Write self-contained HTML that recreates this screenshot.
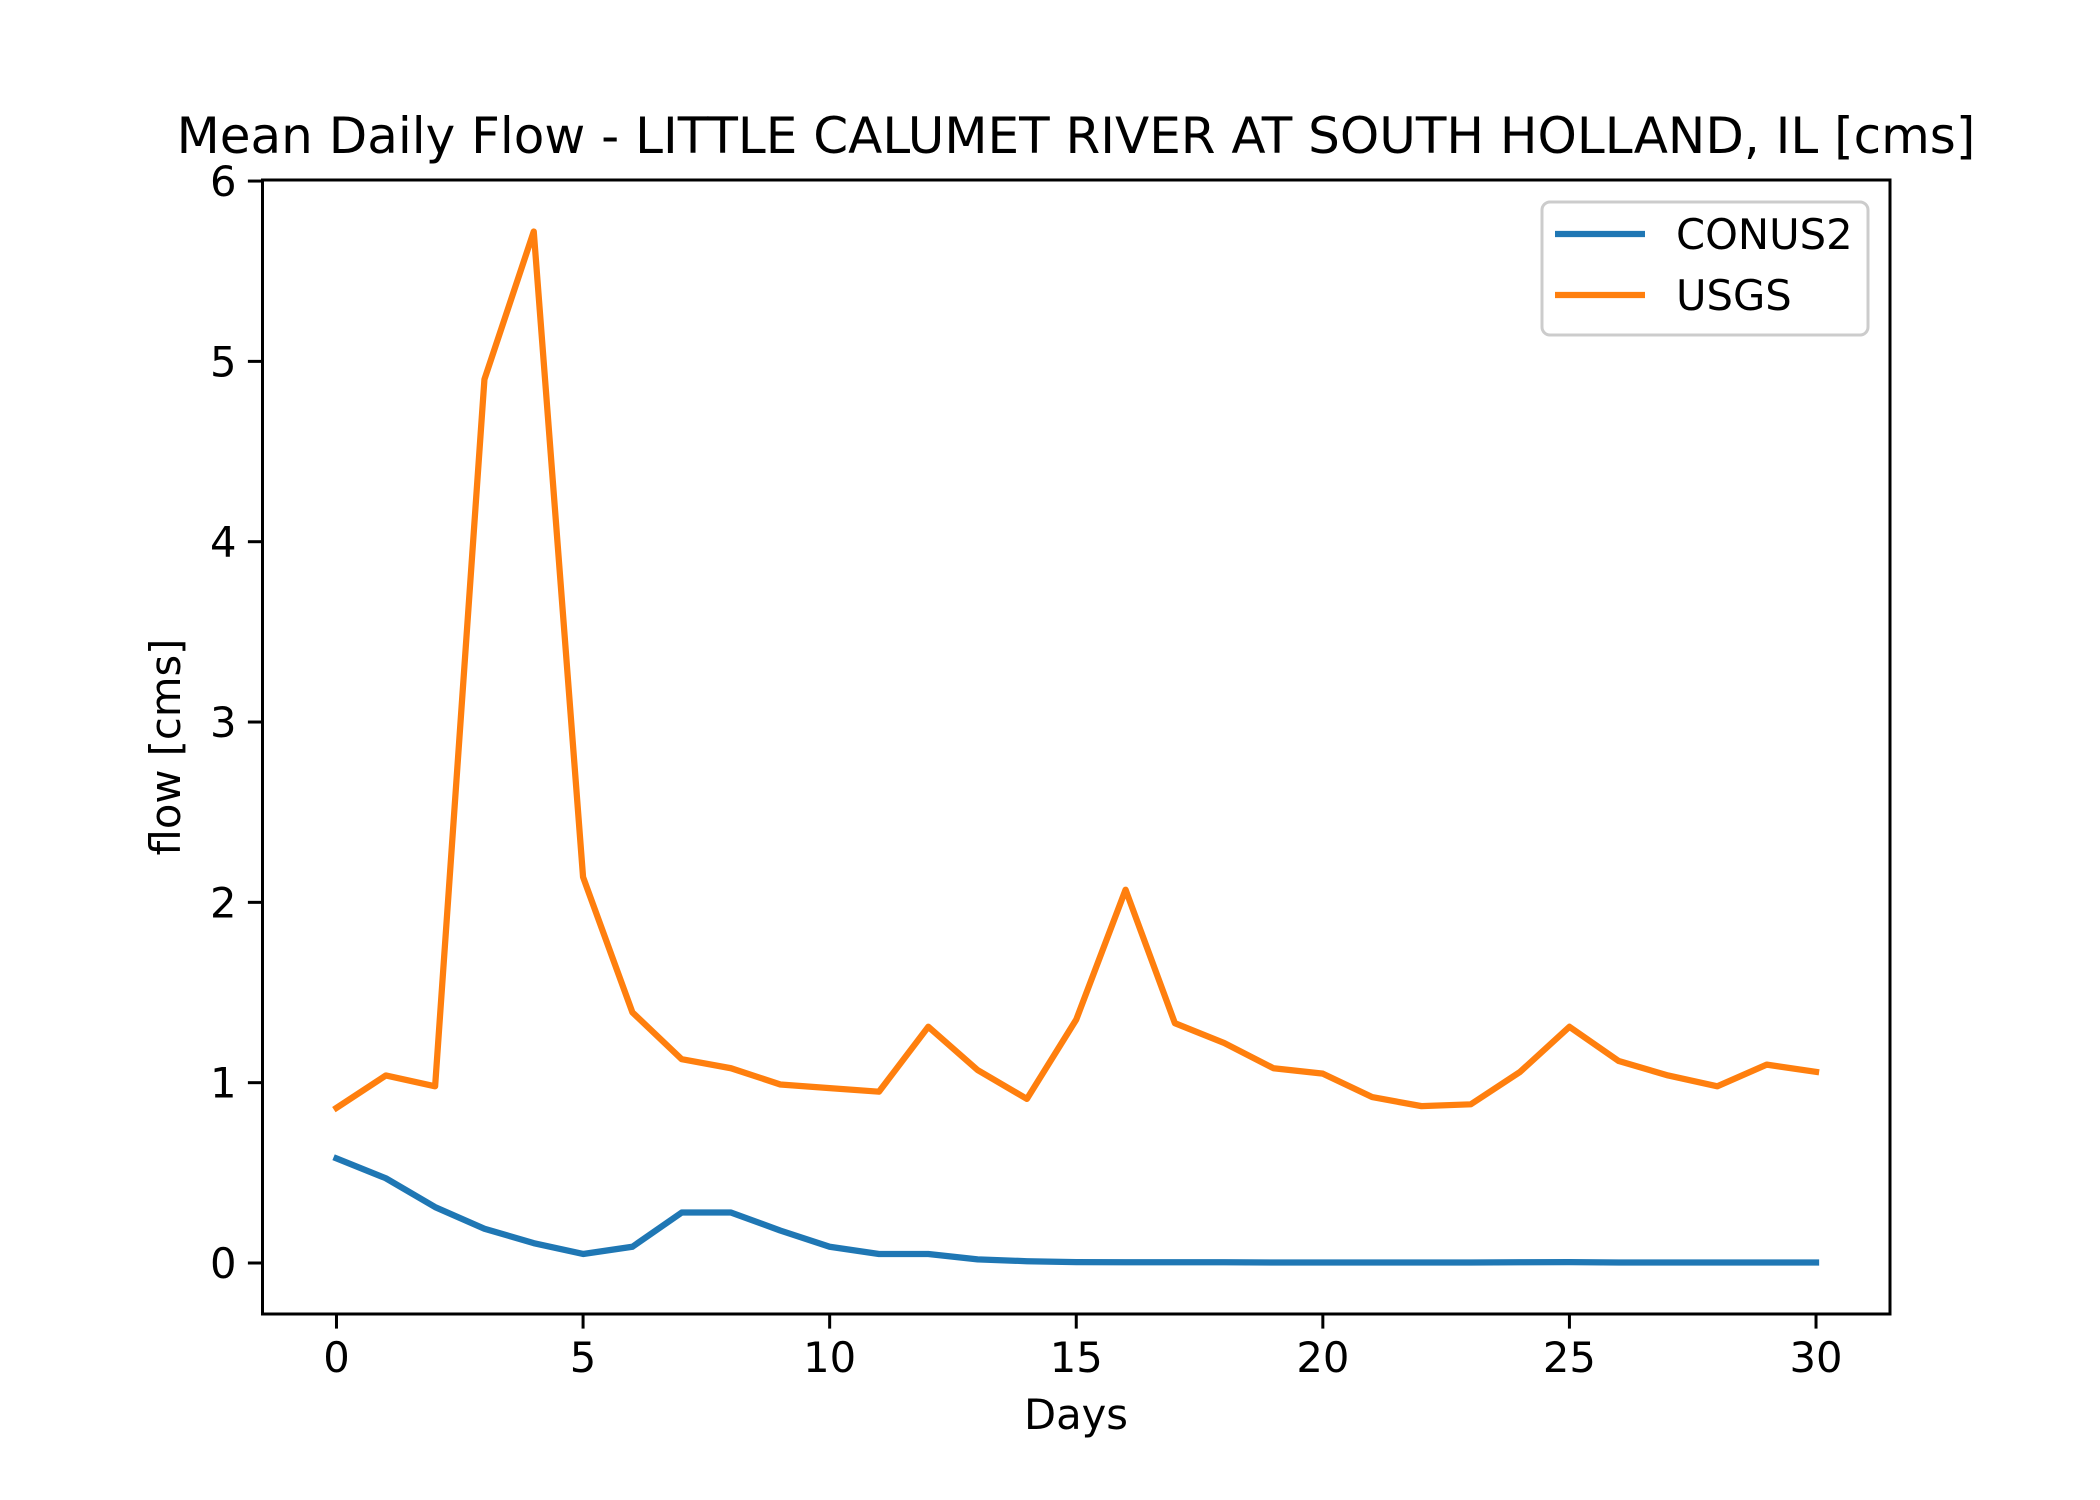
<!DOCTYPE html>
<html><head><meta charset="utf-8"><style>body{margin:0;background:#fff}svg{display:block}text{font-family:"DejaVu Sans","Liberation Sans",sans-serif;fill:#000}</style></head>
<body>
<svg id="chart" width="2100" height="1500" viewBox="0 0 2100 1500" xmlns="http://www.w3.org/2000/svg">
<rect width="2100" height="1500" fill="#fff"/>
<text x="1076" y="153" font-size="50" text-anchor="middle">Mean Daily Flow - LITTLE CALUMET RIVER AT SOUTH HOLLAND, IL [cms]</text>
<g id="ticks"></g>
<g id="series"></g>
<rect x="262.5" y="180" width="1627.5" height="1134" fill="none" stroke="#000" stroke-width="3"/>
<text x="1076" y="1429" font-size="41.7" text-anchor="middle">Days</text>
<text transform="translate(180,747) rotate(-90)" font-size="41.7" text-anchor="middle">flow [cms]</text>
<g>
<rect x="1542" y="202" width="326" height="133" rx="8" fill="#fff" fill-opacity="0.8" stroke="#ccc" stroke-width="3"/>
<line x1="1555" y1="234" x2="1645" y2="234" stroke="#1f77b4" stroke-width="6.25"/>
<text x="1676" y="249" font-size="41.7">CONUS2</text>
<line x1="1555" y1="295" x2="1645" y2="295" stroke="#ff7f0e" stroke-width="6.25"/>
<text x="1676" y="310" font-size="41.7">USGS</text>
</g>
</svg>
<script>
const days = [0,1,2,3,4,5,6,7,8,9,10,11,12,13,14,15,16,17,18,19,20,21,22,23,24,25,26,27,28,29,30];
const usgs = [0.86,1.04,0.98,4.9,5.72,2.14,1.39,1.13,1.08,0.99,0.97,0.95,1.31,1.07,0.91,1.35,2.07,1.33,1.22,1.08,1.05,0.92,0.87,0.88,1.06,1.31,1.12,1.04,0.98,1.10,1.06];
const conus2 = [0.58,0.47,0.31,0.19,0.11,0.05,0.09,0.28,0.28,0.18,0.09,0.05,0.05,0.02,0.01,0.005,0.004,0.004,0.004,0.003,0.003,0.003,0.003,0.003,0.004,0.005,0.003,0.003,0.003,0.003,0.003];
const xTicks = [0,5,10,15,20,25,30];
const yTicks = [0,1,2,3,4,5,6];
const L=262.5,R=1890,T=180,B=1314;
const xMin=-1.5,xMax=31.5;
const all=usgs.concat(conus2);
const dMin=Math.min(...all),dMax=Math.max(...all),m=(dMax-dMin)*0.05;
const yMin=dMin-m,yMax=dMax+m;
const sx=v=>L+(v-xMin)/(xMax-xMin)*(R-L);
const sy=v=>B-(v-yMin)/(yMax-yMin)*(B-T);
const NS='http://www.w3.org/2000/svg';
const tg=document.getElementById('ticks'),sg=document.getElementById('series');
function mk(tag,attrs,parent){const e=document.createElementNS(NS,tag);for(const k in attrs)e.setAttribute(k,attrs[k]);parent.appendChild(e);return e;}
xTicks.forEach(t=>{
 const l=mk('line',{x1:sx(t),x2:sx(t),y1:B,y2:B+14.6,stroke:'#000','stroke-width':3},tg);
 
 
 const tx=mk('text',{x:sx(t),y:B+58,'font-size':41.7,'text-anchor':'middle'},tg);
 tx.textContent=t;
 
 
});
yTicks.forEach(t=>{
 const l=mk('line',{x1:L-14.6,x2:L,y1:sy(t),y2:sy(t),stroke:'#000','stroke-width':3},tg);
 
 
 const tx=mk('text',{x:L-26,y:sy(t)+15,'font-size':41.7,'text-anchor':'end'},tg);
 tx.textContent=t;
 
 
});
function line(vals,color,name){
 const p=mk('polyline',{points:vals.map((v,i)=>sx(days[i])+','+sy(v)).join(' '),fill:'none',stroke:color,'stroke-width':6.25,'stroke-linejoin':'round','stroke-linecap':'square'},sg);
 
 
}
line(conus2,'#1f77b4','conus2-line');
line(usgs,'#ff7f0e','usgs-line');
</script>
</body></html>
